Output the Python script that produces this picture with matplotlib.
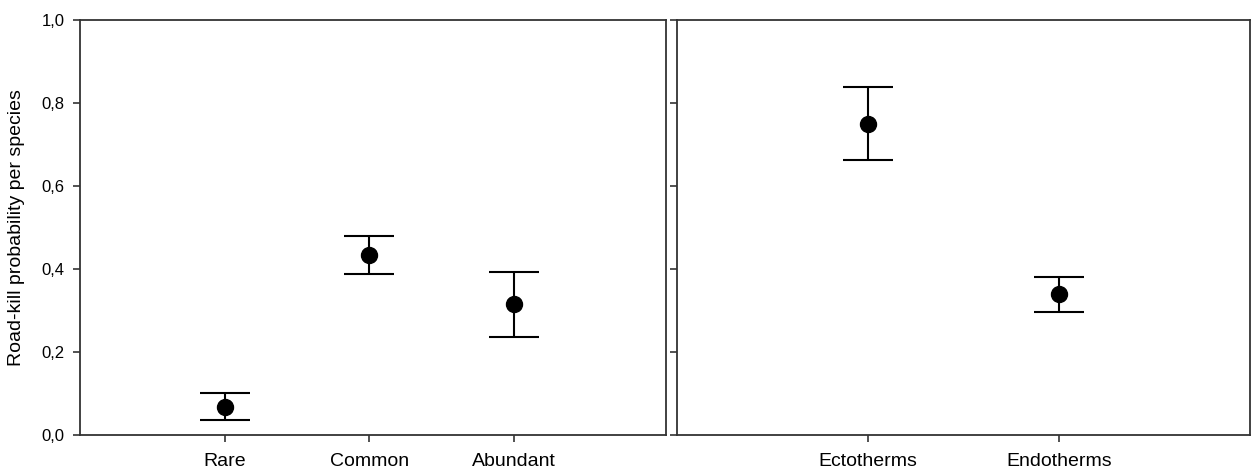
import matplotlib
matplotlib.use("Agg")
import matplotlib.pyplot as plt

abund_cats = ["Rare", "Common", "Abundant"]
abund_mean = [0.068, 0.434, 0.315]
abund_low = [0.036, 0.387, 0.236]
abund_high = [0.102, 0.480, 0.393]

thermo_cats = ["Ectotherms", "Endotherms"]
thermo_mean = [0.750, 0.340]
thermo_low = [0.662, 0.296]
thermo_high = [0.839, 0.381]

yticks = [0.0, 0.2, 0.4, 0.6, 0.8, 1.0]
ytick_labels = ["0,0", "0,2", "0,4", "0,6", "0,8", "1,0"]
ylabel = "Road-kill probability per species"

tick_font = "Liberation Sans"

fig = plt.figure(figsize=(12.51, 4.72), dpi=100)
ax1 = fig.add_axes([0.064, 0.0784, 0.468, 0.879])
ax2 = fig.add_axes([0.541, 0.0784, 0.458, 0.879])

def draw(ax, cats, mean, low, high, xlim, show_labels):
    x = list(range(1, len(cats) + 1))
    yerr = [[m - l for m, l in zip(mean, low)], [h - m for m, h in zip(mean, high)]]
    ax.errorbar(x, mean, yerr=yerr, fmt="o", color="black", ms=11.5,
                capsize=18, capthick=1.5, elinewidth=1.5)
    ax.set_xlim(*xlim)
    ax.set_ylim(0, 1.0)
    ax.set_xticks(x)
    ax.set_xticklabels(cats, fontsize=14, family=tick_font)
    ax.set_yticks(yticks)
    if show_labels:
        ax.set_yticklabels(ytick_labels, fontsize=12, family=tick_font)
    else:
        ax.set_yticklabels([])
    ax.tick_params(direction="out", length=5, width=1.2, color="#333333", pad=6)
    ax.tick_params(axis="x", pad=8)
    for s in ax.spines.values():
        s.set_linewidth(1.3)
        s.set_color("#333333")

draw(ax1, abund_cats, abund_mean, abund_low, abund_high, (0, 4.05), True)
draw(ax2, thermo_cats, thermo_mean, thermo_low, thermo_high, (0, 3.0), False)
ax1.set_ylabel(ylabel, fontsize=14, family="Liberation Sans", labelpad=12)

fig.savefig("out.png", dpi=100)
